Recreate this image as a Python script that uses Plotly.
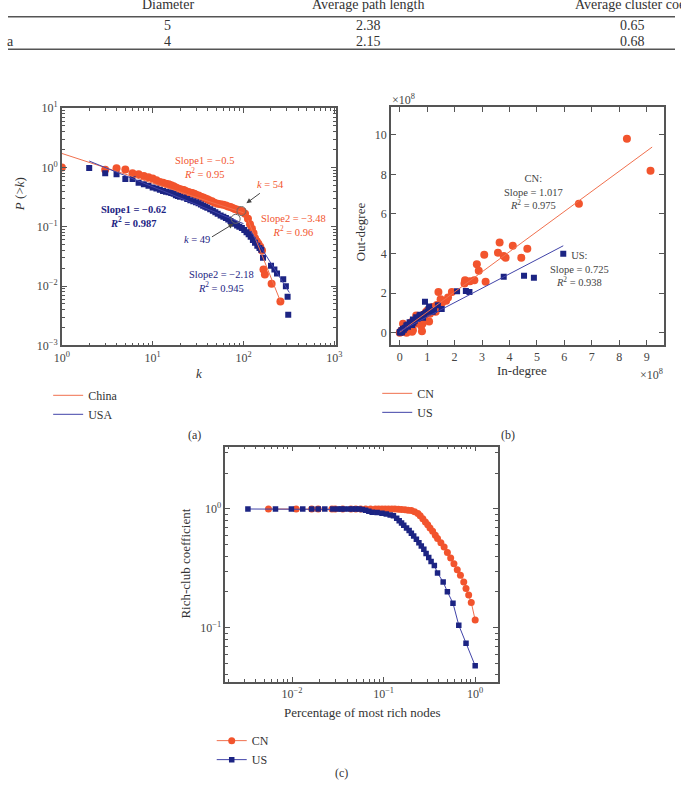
import plotly.graph_objects as go

# ---------------- data ----------------
# Table (top, partially cropped)
table_header = ["Diameter", "Average path length", "Average cluster coeffi"]
table_row1 = ["", "5", "2.38", "0.65"]
table_row2 = ["a", "4", "2.15", "0.68"]

# Panel (a): cumulative degree distribution P(>k)
k_cn = [1, 3, 4, 5, 6, 7, 8, 9, 10, 11, 12, 13, 14, 15, 16, 17, 18, 19, 20, 21, 22, 23, 24, 25, 26,
        27, 28, 29, 30, 32, 34, 36, 38, 40, 42, 45, 48, 52, 56, 60, 64, 68, 72, 76, 80, 84, 88, 92,
        97, 104, 112, 118, 124, 129, 134, 140, 146, 153, 160, 166, 172, 204, 255]
p_cn = [1.0, 0.91, 0.97, 0.92, 0.80, 0.77, 0.72, 0.68, 0.65, 0.61, 0.57, 0.55, 0.53, 0.52, 0.50,
        0.48, 0.46, 0.44, 0.43, 0.42, 0.415, 0.40, 0.39, 0.38, 0.375, 0.37, 0.365, 0.355, 0.345,
        0.335, 0.32, 0.31, 0.30, 0.29, 0.28, 0.27, 0.255, 0.245, 0.24, 0.235, 0.228, 0.22, 0.215,
        0.208, 0.20, 0.195, 0.19, 0.187, 0.183, 0.165, 0.136, 0.11, 0.093, 0.078, 0.064, 0.057,
        0.052, 0.046, 0.040, 0.019, 0.0157, 0.011, 0.0055]
k_us = [2, 3, 4, 5, 6, 7, 8, 9, 10, 11, 12, 13, 14, 15, 16, 17, 18, 19, 20, 22, 24, 26, 28, 30, 32,
        34, 36, 38, 40, 43, 46, 49, 52, 56, 60, 64, 68, 72, 76, 80, 85, 90, 96, 102, 108, 114, 120,
        127, 134, 142, 150, 157, 164, 201, 219, 234, 274, 293, 306, 311]
p_us = [0.98, 0.80, 0.77, 0.64, 0.64, 0.55, 0.52, 0.49, 0.46, 0.44, 0.42, 0.40, 0.39, 0.38, 0.37,
        0.36, 0.34, 0.33, 0.32, 0.31, 0.295, 0.28, 0.27, 0.258, 0.248, 0.238, 0.226, 0.218, 0.21,
        0.198, 0.186, 0.175, 0.165, 0.155, 0.148, 0.14, 0.132, 0.125, 0.118, 0.112, 0.105, 0.10,
        0.095, 0.088, 0.081, 0.075, 0.068, 0.060, 0.054, 0.048, 0.044, 0.041, 0.030, 0.022, 0.019,
        0.0164, 0.013, 0.010, 0.0066, 0.0033]
# fitted power-law segments (endpoints)
fit_cn_k = [1, 100, None, 112, 256]
fit_cn_p = [1.72, 0.172, None, 0.13, 0.0055]
fit_us_k = [2, 100, None, 120, 320]
fit_us_p = [1.28, 0.113, None, 0.085, 0.0078]
# break points (circled)
break_k = [95, 82]
break_p = [0.184, 0.136]

# Panel (b): in-degree vs out-degree (x1e8)
cn_in = [8.28, 9.14, 6.53, 3.64, 4.12, 4.65, 3.58, 3.08, 3.79, 3.86, 4.43, 2.81, 2.88, 2.72, 2.38,
         2.56, 3.13, 2.36, 1.41, 1.90, 1.76, 1.69, 1.55, 1.49, 1.31, 1.07, 0.81, 0.83, 0.72, 0.48,
         0.24, 0.12, 0.30, 0.60, 0.95, 1.19, 0.42, 0.06, 0.0, 0.05, 0.10, 0.15, 0.20, 0.30, 0.35,
         0.50, 0.55, 0.65, 0.70, 0.85, 0.90, 1.00, 1.10, 1.20, 1.35, 1.45, 0.45, 0.25, 0.78, 0.88]
cn_out = [9.80, 8.18, 6.52, 4.55, 4.39, 4.24, 4.04, 3.94, 3.87, 3.79, 3.79, 3.46, 3.13, 2.65, 2.65,
          2.60, 2.57, 2.48, 2.05, 2.05, 1.77, 1.61, 1.52, 1.69, 1.06, 0.56, 0.07, 0.45, 0.78, 0.12,
          0.20, 0.45, 0.28, 0.86, 1.03, 1.19, 0.53, 0.03, 0.0, 0.10, 0.05, 0.20, 0.15, 0.35, 0.30,
          0.55, 0.45, 0.70, 0.60, 0.90, 0.75, 1.10, 0.95, 1.30, 1.40, 1.25, 0.05, 0.0, 0.35, 0.62]
us_in = [5.96, 3.79, 4.53, 4.89, 2.41, 2.54, 2.09, 0.92, 1.39, 1.53, 1.07, 1.01, 0.89, 0.72, 0.60,
         0.48, 0.36, 0.24, 0.12, 0.06, 0.0, 0.05, 0.10, 0.15, 0.20, 0.30, 0.40, 0.50, 0.55, 0.65,
         0.70, 0.75, 0.80, 0.85, 0.95, 1.05, 1.10, 1.20, 1.25, 0.02, 0.08, 0.18, 0.28, 0.45]
us_out = [3.99, 2.83, 2.88, 2.78, 2.10, 2.05, 2.09, 1.56, 1.39, 1.19, 1.32, 1.06, 0.94, 0.86, 0.78,
          0.66, 0.53, 0.36, 0.20, 0.12, 0.03, 0.05, 0.10, 0.15, 0.25, 0.30, 0.45, 0.50, 0.60, 0.70,
          0.75, 0.90, 0.85, 0.75, 1.00, 1.20, 1.10, 1.05, 1.15, 0.0, 0.02, 0.22, 0.40, 0.38]
fit_cn_in = [0.0, 9.2]
fit_cn_out = [0.02, 9.38]
fit_us_in = [0.0, 5.96]
fit_us_out = [0.07, 4.39]

# Panel (c): rich-club coefficient
rc_cn_x = [0.00553, 0.0111, 0.0164, 0.0193, 0.0273, 0.0296, 0.0358, 0.044, 0.0497, 0.0562, 0.0637,
           0.072, 0.0814, 0.0883, 0.096, 0.104, 0.113, 0.123, 0.133, 0.145, 0.157, 0.171, 0.185,
           0.201, 0.218, 0.237, 0.251, 0.268, 0.286, 0.303, 0.321, 0.343, 0.367, 0.388, 0.422,
           0.458, 0.497, 0.54, 0.586, 0.637, 0.69, 0.75, 0.794, 0.849, 0.906, 1.0]
rc_cn_y = [1.0, 1.0, 1.0, 1.0, 1.0, 1.0, 1.0, 1.0, 1.0, 1.0, 1.0, 1.0, 1.0, 1.0, 1.0, 1.0, 1.0, 1.0,
           1.0, 0.995, 0.99, 0.985, 0.975, 0.97, 0.95, 0.915, 0.875, 0.827, 0.776, 0.738, 0.692,
           0.65, 0.602, 0.565, 0.52, 0.479, 0.43, 0.386, 0.345, 0.308, 0.276, 0.243, 0.214, 0.189,
           0.163, 0.116]
rc_us_x = [0.0033, 0.0066, 0.00984, 0.0131, 0.0164, 0.0193, 0.0228, 0.0279, 0.0316, 0.0343, 0.0373,
           0.0422, 0.0458, 0.0497, 0.054, 0.0586, 0.0637, 0.069, 0.075, 0.085, 0.096, 0.107, 0.118,
           0.128, 0.139, 0.148, 0.157, 0.166, 0.178, 0.19, 0.201, 0.213, 0.228, 0.243, 0.258, 0.275,
           0.291, 0.311, 0.33, 0.358, 0.388, 0.447, 0.497, 0.572, 0.662, 0.794, 1.0]
rc_us_y = [1.0, 1.0, 1.0, 1.0, 1.0, 1.0, 1.0, 1.0, 1.0, 1.0, 1.0, 1.0, 1.0, 1.0, 1.0, 0.99, 0.975,
           0.955, 0.939, 0.933, 0.921, 0.909, 0.892, 0.875, 0.837, 0.796, 0.761, 0.728, 0.692, 0.658,
           0.626, 0.591, 0.555, 0.52, 0.488, 0.458, 0.422, 0.391, 0.362, 0.334, 0.289, 0.243, 0.201,
           0.161, 0.105, 0.0739, 0.0478]

# tick labels
tv_a_x = [1, 10, 100, 1000]
tt_a_x = ["10<sup>0</sup>", "10<sup>1</sup>", "10<sup>2</sup>", "10<sup>3</sup>"]
tv_a_y = [0.001, 0.01, 0.1, 1, 10]
tt_a_y = ["10<sup>−3</sup>", "10<sup>−2</sup>", "10<sup>−1</sup>", "10<sup>0</sup>", "10<sup>1</sup>"]
tv_b_x = [0, 1, 2, 3, 4, 5, 6, 7, 8, 9]
tv_b_y = [0, 2, 4, 6, 8, 10]
tv_c_x = [0.01, 0.1, 1]
tt_c_x = ["10<sup>−2</sup>", "10<sup>−1</sup>", "10<sup>0</sup>"]
tv_c_y = [0.1, 1]
tt_c_y = ["10<sup>−1</sup>", "10<sup>0</sup>"]

# ---------------- style ----------------
W, H = 681, 792
SERIF = "Liberation Serif"
ORANGE = "#F2542D"
NAVY = "#1C2483"
ORANGE_LINE = "#F0704E"
NAVY_LINE = "#4043A8"
AXIS = "#555555"
TXT = "#333333"


def px(x):
    return x / W


def py(y):
    return 1 - y / H


fig = go.Figure()

# Panel (a)
fig.add_trace(go.Scatter(x=k_cn, y=p_cn, mode="markers", xaxis="x", yaxis="y", showlegend=False,
                         marker=dict(symbol="circle", size=8, color=ORANGE)))
fig.add_trace(go.Scatter(x=k_us, y=p_us, mode="markers", xaxis="x", yaxis="y", showlegend=False,
                         marker=dict(symbol="square", size=6, color=NAVY)))
fig.add_trace(go.Scatter(x=fit_cn_k, y=fit_cn_p, mode="lines", xaxis="x", yaxis="y", name="China",
                         legend="legend", line=dict(color=ORANGE_LINE, width=1)))
fig.add_trace(go.Scatter(x=fit_us_k, y=fit_us_p, mode="lines", xaxis="x", yaxis="y", name="USA",
                         legend="legend", line=dict(color=NAVY_LINE, width=1)))
fig.add_trace(go.Scatter(x=break_k, y=break_p, mode="markers", xaxis="x", yaxis="y", showlegend=False,
                         marker=dict(symbol="circle-open", size=9, color="#666666", line=dict(width=1))))

# Panel (b)
fig.add_trace(go.Scatter(x=cn_in, y=cn_out, mode="markers", xaxis="x2", yaxis="y2", showlegend=False,
                         marker=dict(symbol="circle", size=8, color=ORANGE)))
fig.add_trace(go.Scatter(x=us_in, y=us_out, mode="markers", xaxis="x2", yaxis="y2", showlegend=False,
                         marker=dict(symbol="square", size=6, color=NAVY)))
fig.add_trace(go.Scatter(x=fit_cn_in, y=fit_cn_out, mode="lines", xaxis="x2", yaxis="y2", name="CN",
                         legend="legend2", line=dict(color=ORANGE_LINE, width=1)))
fig.add_trace(go.Scatter(x=fit_us_in, y=fit_us_out, mode="lines", xaxis="x2", yaxis="y2", name="US",
                         legend="legend2", line=dict(color=NAVY_LINE, width=1)))

# Panel (c)
fig.add_trace(go.Scatter(x=rc_cn_x, y=rc_cn_y, mode="lines+markers", xaxis="x3", yaxis="y3", name="CN",
                         legend="legend3", line=dict(color=ORANGE_LINE, width=1),
                         marker=dict(symbol="circle", size=7, color=ORANGE)))
fig.add_trace(go.Scatter(x=rc_us_x, y=rc_us_y, mode="lines+markers", xaxis="x3", yaxis="y3", name="US",
                         legend="legend3", line=dict(color=NAVY_LINE, width=1),
                         marker=dict(symbol="square", size=5.5, color=NAVY)))

tickfont = dict(family=SERIF, size=12, color="#444444")
base = dict(showline=True, linecolor=AXIS, linewidth=1.5, mirror="ticks", ticks="inside", ticklen=5,
            tickcolor=AXIS, tickwidth=1, showgrid=False, zeroline=False, tickfont=tickfont)
minor = dict(ticks="inside", ticklen=3, tickcolor=AXIS, dtick="D1", showgrid=False)
legfont = dict(family=SERIF, size=12, color=TXT)

layout = dict(
    width=W, height=H, margin=dict(l=0, r=0, t=0, b=0),
    paper_bgcolor="white", plot_bgcolor="white",
    font=dict(family=SERIF, color=TXT),
    xaxis=dict(base, type="log", domain=[px(55), px(335)], range=[0, 3.02], anchor="y",
               tickmode="array", tickvals=tv_a_x, ticktext=tt_a_x, minor=minor),
    yaxis=dict(base, type="log", domain=[py(344), py(102)], range=[-3, 1], anchor="x",
               tickmode="array", tickvals=tv_a_y, ticktext=tt_a_y, minor=minor),
    xaxis2=dict(base, domain=[px(391), px(670)], range=[-0.32, 9.64], anchor="y2",
                tickmode="array", tickvals=tv_b_x),
    yaxis2=dict(base, domain=[py(343), py(101)], range=[-0.6, 11.4], anchor="x2",
                tickmode="array", tickvals=tv_b_y),
    xaxis3=dict(base, type="log", domain=[px(222), px(500)], range=[-2.727, 0.246], anchor="y3",
                tickmode="array", tickvals=tv_c_x, ticktext=tt_c_x, minor=minor),
    yaxis3=dict(base, type="log", domain=[py(687), py(447)], range=[-1.457, 0.526], anchor="x3",
                tickmode="array", tickvals=tv_c_y, ticktext=tt_c_y, minor=minor),
    legend=dict(x=px(41), y=py(380), xanchor="left", yanchor="top", bgcolor="rgba(0,0,0,0)",
                font=legfont, itemwidth=30, tracegroupgap=0),
    legend2=dict(x=px(377), y=py(378), xanchor="left", yanchor="top", bgcolor="rgba(0,0,0,0)",
                 font=legfont, itemwidth=30, tracegroupgap=0),
    legend3=dict(x=px(208), y=py(732), xanchor="left", yanchor="top", bgcolor="rgba(0,0,0,0)",
                 font=legfont, itemwidth=30, tracegroupgap=0),
)
fig.update_layout(**layout)

ann = []


def note(text, x, y, color=TXT, size=10.5, xanchor="center", yanchor="middle", angle=0):
    ann.append(dict(text=text, x=px(x), y=py(y), xref="paper", yref="paper", showarrow=False,
                    xanchor=xanchor, yanchor=yanchor, textangle=angle,
                    font=dict(family=SERIF, size=size, color=color)))


# table
for txt, cx in zip(table_header, [163, 368, 642]):
    note(txt, cx, -4, size=14)
for txt, cx in zip(table_row1, [3, 163, 368, 638]):
    if txt:
        note(txt, cx, 18, size=14)
for txt, cx in zip(table_row2, [3, 163, 368, 638]):
    note(txt, cx, 34, size=14)

# panel (a) texts (two-line blocks)
note("Slope1 = −0.5<br><i>R</i><sup>2</sup> = 0.95", 201, 163, ORANGE)
note("<b>Slope1 = −0.62<br><i>R</i><sup>2</sup> = 0.987</b>", 128, 213, NAVY)
note("<i>k</i> = 54", 268, 180, ORANGE)
note("<i>k</i> = 49", 193, 236, NAVY)
note("Slope2 = −3.48<br><i>R</i><sup>2</sup> = 0.96", 292, 222, ORANGE)
note("Slope2 = −2.18<br><i>R</i><sup>2</sup> = 0.945", 218, 279, NAVY)
note("<i>P</i> (&gt;<i>k</i>)", 12, 190, size=13, angle=-90)
note("<i>k</i>", 195, 373, size=13)
note("(a)", 190, 435, size=12)

# arrows (a)
ann.append(dict(x=2.032, y=-0.603, xref="x", yref="y", ax=15, ay=-11, text="", showarrow=True,
                arrowhead=2, arrowsize=1, arrowwidth=1, arrowcolor="#444444"))
ann.append(dict(x=1.889, y=-0.950, xref="x", yref="y", ax=-23, ay=14, text="", showarrow=True,
                arrowhead=2, arrowsize=1, arrowwidth=1, arrowcolor="#444444"))

# panel (b) texts
note("CN:<br>Slope = 1.017<br><i>R</i><sup>2</sup> = 0.975", 537, 188, "#444444")
note("US:<br>Slope = 0.725<br><i>R</i><sup>2</sup> = 0.938", 583, 266, "#444444")
note("×10<sup>8</sup>", 390, 93, "#444444", size=12, xanchor="left")
note("×10<sup>8</sup>", 671, 374, "#444444", size=12, xanchor="right")
note("In-degree", 525, 370, size=13)
note("Out-degree", 360, 228, size=13, angle=-90)
note("(b)", 510, 435, size=12)

# panel (c) texts
note("Percentage of most rich nodes", 362, 718, size=13)
note("Rich-club coefficient", 181, 566, size=13, angle=-90)
note("(c)", 340, 780, size=12)

fig.update_layout(annotations=ann)

# table rules
fig.update_layout(shapes=[
    dict(type="line", xref="paper", yref="paper", x0=0, x1=1, y0=py(9), y1=py(9),
         line=dict(color="#555555", width=1.5)),
    dict(type="line", xref="paper", yref="paper", x0=0, x1=1, y0=py(42), y1=py(42),
         line=dict(color="#555555", width=1.5)),
])

fig.write_html("out.html")
